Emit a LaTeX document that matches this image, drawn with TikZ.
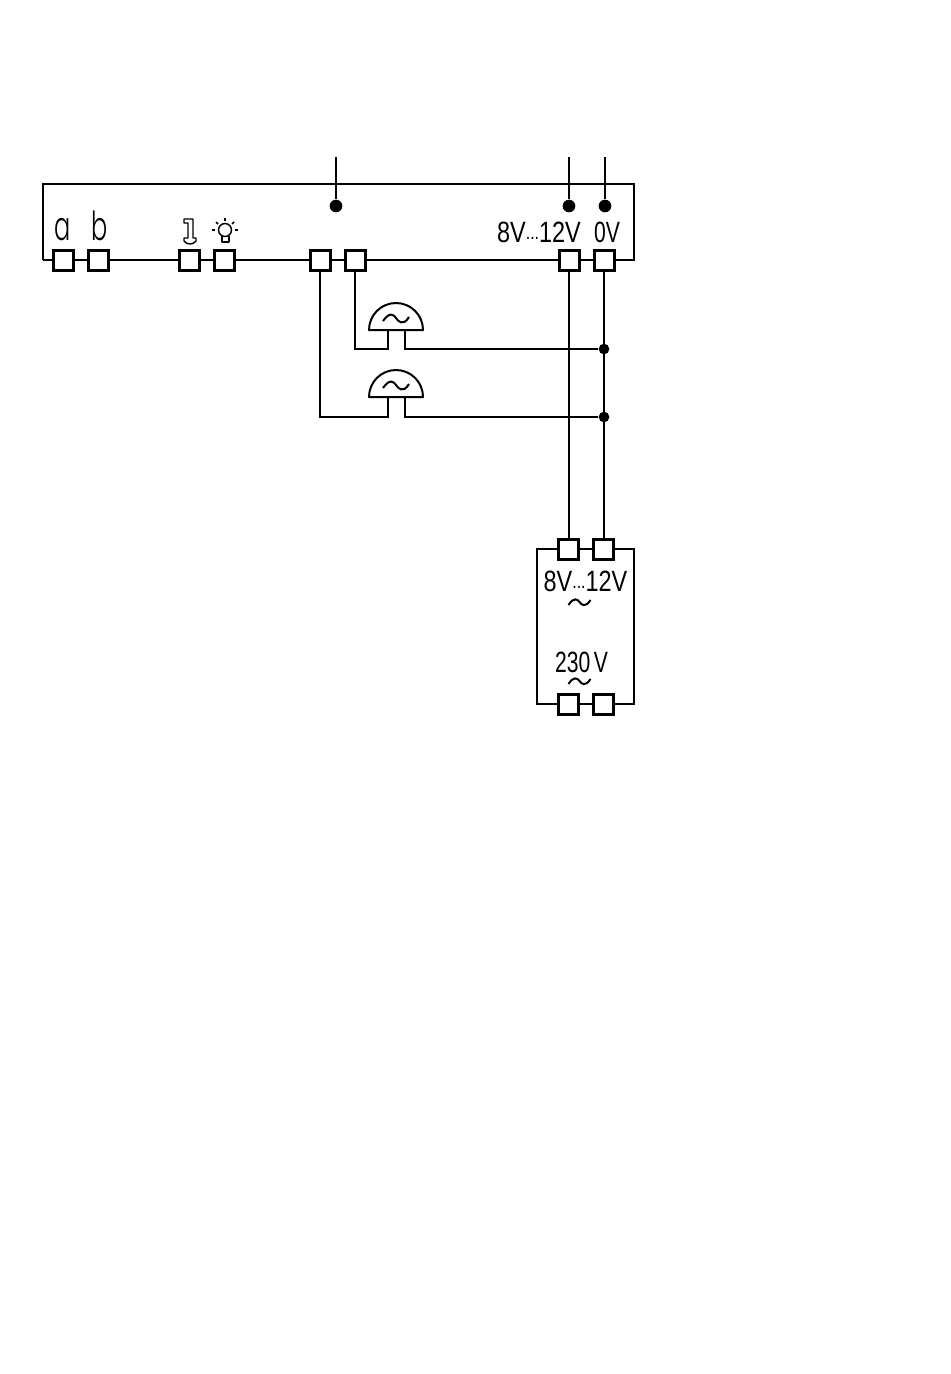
\documentclass[tikz,border=0pt]{standalone}
\usepackage{fontspec}
\setmainfont{Liberation Sans}
\newfontfamily\letterfont[RawFeature=+ss01]{Poppins Light}
\tikzset{
  terminal/.style={draw,line width=2.25pt,fill=white,minimum size=15pt,inner sep=0pt},
  wire/.style={line width=1.5pt},
  junction/.style={circle,fill=black,inner sep=0pt,minimum size=8pt},
  endpoint/.style={circle,fill=black,inner sep=0pt,minimum size=9.5pt},
  volts/.style={inner sep=0pt,transform shape,xscale=.8,font=\fontsize{22}{22}\selectfont},
  letter/.style={inner sep=0pt,transform shape,xscale=.6,font=\letterfont\fontsize{30}{30}\selectfont},
  pictowire/.style={line width=1.1pt,line join=round},
}
\newcommand{\bell}[2]{%
  \draw[wire,line join=round] (#1-27,#2) arc(180:360:27) -- cycle;
  \draw[wire] (#1-13,#2-9) .. controls (#1-6,#2-19) and (#1-2,#2-15) .. (#1,#2-12)
              .. controls (#1+2,#2-9) and (#1+7,#2-3) .. (#1+13,#2-13);
}
\newcommand{\wave}[2]{%
  \draw[wire] (#1-11,#2+3) .. controls (#1-6,#2-5) and (#1-2,#2-3) .. (#1,#2)
              .. controls (#1+2,#2+3) and (#1+6,#2+6) .. (#1+11,#2-2);
}
\newcommand{\ellipsisdots}{{\fontsize{15}{15}\selectfont\raisebox{2.5pt}{...}}}
\begin{document}
\begin{tikzpicture}[x=0.75pt,y=-0.75pt]
  \useasboundingbox (0,0) rectangle (950,1374);
  % outer frame corners
  \coordinate (frameSW) at (43,260);
  \coordinate (frameNW) at (43,184);
  \coordinate (frameNE) at (634,184);
  \coordinate (frameSE) at (634,260);
  \draw[wire] (frameSW) -- (frameNW) -- (frameNE) -- (frameSE) -- (frameSW);
  % top leads
  \node[endpoint] (dotA) at (336,206) {};
  \node[endpoint] (dotB) at (569,206) {};
  \node[endpoint] (dotC) at (605,206) {};
  \coordinate (leadA) at (336,157);
  \coordinate (leadB) at (569,157);
  \coordinate (leadC) at (605,157);
  \draw[wire] (leadA) -- (dotA);
  \draw[wire] (leadB) -- (dotB);
  \draw[wire] (leadC) -- (dotC);
  % terminal row
  \node[terminal] (ta) at (63.5,260) {};
  \node[terminal] (tb) at (98.5,260) {};
  \node[terminal] (tkey) at (189.5,260) {};
  \node[terminal] (tlamp) at (224.5,260) {};
  \node[terminal] (tbellb) at (320,260) {};
  \node[terminal] (tbella) at (355,260) {};
  \node[terminal] (tv) at (569,260) {};
  \node[terminal] (tz) at (604,260) {};
  \node[letter] (la) at (63,230) {a};
  \node[letter] (lb) at (99.5,226) {b};
  \node[volts] (lv) at (539,232.5) {8V\ellipsisdots 12V};
  \node[volts,xscale=.9] (lz) at (607,232.5) {0V};
  % key symbol
  \draw[pictowire] (184,219) -- (193,219) -- (193,238) -- (196,238) -- (196,241)
    .. controls (193,245) and (187,245) .. (184,241) -- (184,238) -- (188,238) -- (188,223) -- (184,223) -- cycle;
  % lamp symbol
  \draw[pictowire] (225,230) circle (6.5);
  \draw[pictowire] (222,236) -- (222,242) -- (229,242) -- (229,236);
  \draw[pictowire] (225,218) -- (225,221);
  \draw[pictowire] (216,222) -- (218,224);
  \draw[pictowire] (234,222) -- (232,224);
  \draw[pictowire] (212,230) -- (215,230);
  \draw[pictowire] (235,230) -- (238,230);
  % bells
  \bell{396}{330}
  \bell{396}{397}
  \coordinate (bellaL) at (388,330);
  \coordinate (bellaR) at (405,330);
  \coordinate (bellbL) at (388,397);
  \coordinate (bellbR) at (405,397);
  \node[junction] (joina) at (604,349) {};
  \node[junction] (joinb) at (604,417) {};
  \draw[wire] (tbella.south) |- (388,349) -- (bellaL);
  \draw[wire] (bellaR) -- (405,349) -- (joina);
  \draw[wire] (tbellb.south) |- (388,417) -- (bellbL);
  \draw[wire] (bellbR) -- (405,417) -- (joinb);
  % transformer
  \coordinate (transNW) at (537,549);
  \coordinate (transNE) at (634,549);
  \coordinate (transSW) at (537,704);
  \coordinate (transSE) at (634,704);
  \draw[wire] (transNW) -- (transNE) -- (transSE) -- (transSW) -- cycle;
  \node[terminal] (pv) at (568.5,549) {};
  \node[terminal] (pz) at (603.5,549) {};
  \node[terminal] (qv) at (568.5,704) {};
  \node[terminal] (qz) at (603.5,704) {};
  \draw[wire] (tv.south) -- (tv.south |- pv.north);
  \draw[wire] (tz.south) -- (tz.south |- pz.north);
  \node[volts] (lsec) at (585.5,581.5) {8V\ellipsisdots 12V};
  \wave{579.5}{602}
  \node[volts,xscale=.9] (lpri) at (581.5,662.5) {230\,V};
  \wave{579.5}{681}
\end{tikzpicture}
\end{document}
